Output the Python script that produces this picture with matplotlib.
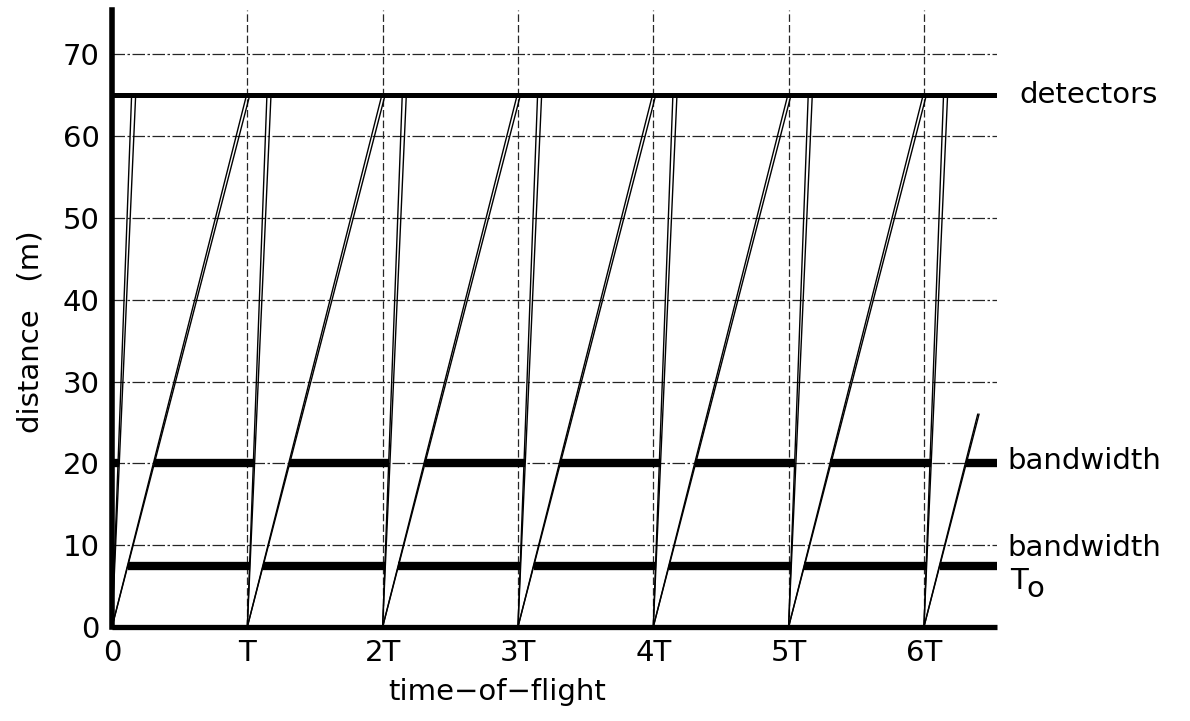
import matplotlib
matplotlib.use("Agg")
import matplotlib.pyplot as plt

# frame starts, in units of the period T
frames = [0, 1, 2, 3, 4, 5, 6]
tick_labels = ["0", "T", "2T", "3T", "4T", "5T", "6T"]
y_ticks = [0, 10, 20, 30, 40, 50, 60, 70]

detector = 65.0
band_hi = 20.0
band_lo = 7.5
fast_arrival = [0.145, 0.175]   # arrival time at detector (fraction of T)
slow_arrival = [0.994, 1.018]
last_slow_cut = 26.0            # slow pair of last frame drawn only up to here
x_max = 6.54
y_max = 75.4

plt.rcParams['font.family'] = ['DejaVu Sans']
FS = 21
fig = plt.figure(figsize=(11.9, 7.21), dpi=100)
ax = fig.add_axes([0.0941, 0.1304, 0.7437, 0.8556])
ax.set_xlim(0, x_max)
ax.set_ylim(0, y_max)

# grid
dashdot = (10, 2, 2, 2)
for y in y_ticks[1:]:
    ax.plot([0, x_max], [y, y], color='0.15', lw=0.9, dashes=dashdot, zorder=1)
for k in frames[1:]:
    ax.plot([k, k], [0, y_max], color='0.15', lw=0.9, dashes=(6, 2.5), zorder=1)

# neutron paths
for k in frames:
    for a in fast_arrival:
        ax.plot([k, k + a], [0, detector], color='black', lw=1.0, zorder=3)
    for a in slow_arrival:
        if k == frames[-1]:
            ax.plot([k, k + a * last_slow_cut / detector], [0, last_slow_cut],
                    color='black', lw=1.0, zorder=3)
        else:
            ax.plot([k, k + a], [0, detector], color='black', lw=1.0, zorder=3)

# bandwidth choppers: open from slow line to next frame's fast line
slow_mean = sum(slow_arrival) / 2
fast_mean = sum(fast_arrival) / 2
for level in [band_lo, band_hi]:
    for k in [-1] + frames:
        x0 = k + slow_mean * level / detector
        x1 = k + 1 + fast_mean * level / detector
        x0, x1 = max(x0, 0), min(x1, x_max)
        if x1 > x0:
            ax.plot([x0, x1], [level, level], color='black', lw=6,
                    solid_capstyle='butt', zorder=2)

# T0 line and detectors
ax.plot([0, x_max], [0, 0], color='black', lw=3.8, clip_on=False, zorder=4,
        solid_capstyle='butt')
ax.plot([0, x_max], [detector, detector], color='black', lw=3.6, zorder=4,
        solid_capstyle='butt')

for s in ['top', 'right', 'bottom']:
    ax.spines[s].set_visible(False)
ax.spines['left'].set_linewidth(4)
ax.spines['left'].set_zorder(5)

ax.set_xticks(frames)
ax.set_xticklabels(tick_labels)
ax.set_yticks(y_ticks)
ax.tick_params(length=0, labelsize=FS)
ax.tick_params(axis='x', pad=9)
ax.tick_params(axis='y', pad=9)

ax.set_xlabel("time\u2212of\u2212flight", fontsize=FS)
ax.xaxis.set_label_coords(0.435, -0.083)
ax.set_ylabel("distance   (m)", fontsize=FS)
ax.yaxis.set_label_coords(-0.0757, 0.478)

# right-hand labels
ax.text(6.706, detector, "detectors", fontsize=FS,
        va='center', ha='left', clip_on=False)
ax.text(6.617, 20.3, "bandwidth", fontsize=FS,
        va='center', ha='left', clip_on=False)
ax.text(6.617, 9.6, "bandwidth", fontsize=FS,
        va='center', ha='left', clip_on=False)
ax.text(6.640, 5.6, "T", fontsize=FS,
        va='center', ha='left', clip_on=False)
ax.text(6.755, 4.6, "o", fontsize=FS,
        va='center', ha='left', clip_on=False)

fig.savefig("out.png", dpi=100)
